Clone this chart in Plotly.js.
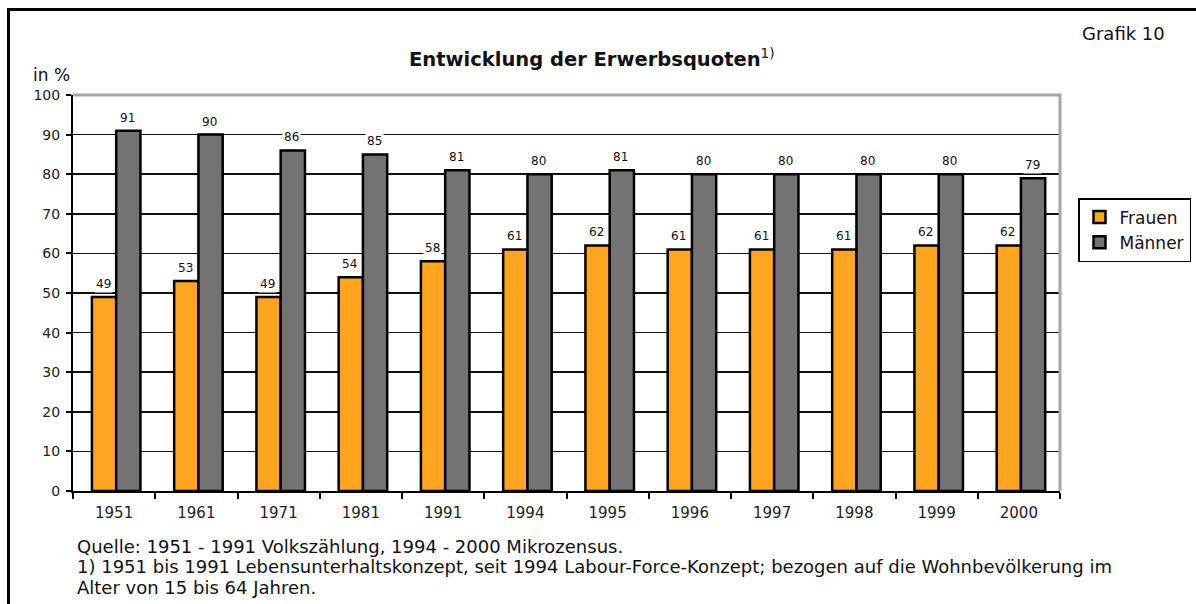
<!DOCTYPE html>
<html>
<head>
<meta charset="utf-8">
<script src="https://cdn.plot.ly/plotly-3.0.1.min.js"></script>
<style>
  html, body { margin: 0; padding: 0; background: #ffffff; }
  #chart { width: 1196px; height: 604px; }
</style>
</head>
<body>
<div id="chart"></div>
<script>
// Erwerbsquoten nach Geschlecht, in %
const years = ['1951', '1961', '1971', '1981', '1991', '1994', '1995', '1996', '1997', '1998', '1999', '2000'];
const frauen = [49, 53, 49, 54, 58, 61, 62, 61, 61, 61, 62, 62];
const maenner = [91, 90, 86, 85, 81, 80, 81, 80, 80, 80, 80, 79];
const seriesNames = ['Frauen', 'Männer'];
const yTicks = [0, 10, 20, 30, 40, 50, 60, 70, 80, 90, 100];

const W = 1196, H = 604;
const M = { l: 73, r: 136, t: 95, b: 113, autoexpand: false };
const plotW = W - M.l - M.r, plotH = H - M.t - M.b;
// pixel position on the page -> paper coordinates
const px = x => (x - M.l) / plotW;
const py = y => (H - M.b - y) / plotH;

const FONT = 'DejaVu Sans, Arial, sans-serif';
const ORANGE = '#ffa520';
const GREY = '#737373';

// bar slot within each category (in category units)
const BAR_W = 0.295;
const OFFSETS = [-0.27, 0.025];

const traces = [
  {
    type: 'bar', name: seriesNames[0], x: years, y: frauen,
    width: BAR_W, offset: OFFSETS[0],
    marker: { color: ORANGE, line: { color: '#000', width: 2.5 } },
    hoverinfo: 'x+y'
  },
  {
    type: 'bar', name: seriesNames[1], x: years, y: maenner,
    width: BAR_W, offset: OFFSETS[1],
    marker: { color: GREY, line: { color: '#000', width: 2.5 } },
    hoverinfo: 'x+y'
  }
];

// value labels above each bar, on a white patch that breaks the gridline
const valueLabels = [];
[frauen, maenner].forEach((vals, s) => {
  vals.forEach((v, i) => {
    valueLabels.push({
      x: i + OFFSETS[s] + BAR_W / 2, y: v, xref: 'x', yref: 'y',
      text: String(v), showarrow: false,
      xanchor: 'center', yanchor: 'bottom',
      xshift: -1, yshift: 4,
      bgcolor: '#ffffff', borderpad: 1,
      font: { family: FONT, size: 12, color: '#111' }
    });
  });
});

const textNotes = [
  { x: px(407), y: py(58), xanchor: 'left', yanchor: 'middle',
    text: '<b>Entwicklung der Erwerbsquoten</b><sup>1)</sup>',
    font: { family: FONT, size: 19.5, color: '#111' } },
  { x: px(1080), y: py(33), xanchor: 'left', yanchor: 'middle',
    text: 'Grafik 10', font: { family: FONT, size: 18, color: '#111' } },
  { x: px(31), y: py(75), xanchor: 'left', yanchor: 'middle',
    text: 'in %', font: { family: FONT, size: 17, color: '#111' } },
  { x: px(75), y: py(546), xanchor: 'left', yanchor: 'middle',
    text: 'Quelle: 1951 - 1991 Volkszählung, 1994 - 2000 Mikrozensus.',
    font: { family: FONT, size: 18, color: '#111' } },
  { x: px(75), y: py(566), xanchor: 'left', yanchor: 'middle',
    text: '1) 1951 bis 1991 Lebensunterhaltskonzept, seit 1994 Labour-Force-Konzept; bezogen auf die Wohnbevölkerung im',
    font: { family: FONT, size: 18, color: '#111' } },
  { x: px(75), y: py(587), xanchor: 'left', yanchor: 'middle',
    text: 'Alter von 15 bis 64 Jahren.',
    font: { family: FONT, size: 18, color: '#111' } }
].map(a => Object.assign({ xref: 'paper', yref: 'paper', showarrow: false, align: 'left' }, a));

const layout = {
  width: W, height: H,
  margin: M,
  paper_bgcolor: '#ffffff', plot_bgcolor: '#ffffff',
  barmode: 'group',
  showlegend: true,
  legend: {
    x: px(1078), y: py(198), xanchor: 'left', yanchor: 'top',
    bgcolor: '#ffffff', bordercolor: '#000', borderwidth: 1.5,
    font: { family: FONT, size: 17, color: '#111' },
    itemwidth: 30, tracegroupgap: 0
  },
  xaxis: {
    type: 'category', categoryorder: 'array', categoryarray: years,
    range: [-0.5, years.length - 0.5], autorange: false,
    showline: true, linecolor: '#000', linewidth: 2,
    ticks: 'outside', tickson: 'boundaries', ticklen: 6, tickwidth: 2, tickcolor: '#000',
    tickangle: 0, ticklabelstandoff: 7,
    tickfont: { family: FONT, size: 15, color: '#222' },
    showgrid: false, zeroline: false, fixedrange: true
  },
  yaxis: {
    range: [0, 100], autorange: false, tickvals: yTicks, ticktext: yTicks.map(String),
    showline: true, linecolor: '#000', linewidth: 2,
    ticks: 'outside', ticklen: 5, tickwidth: 2, tickcolor: '#000',
    ticklabelstandoff: 3,
    tickfont: { family: FONT, size: 14, color: '#222' },
    showgrid: true, gridcolor: '#111', gridwidth: 1.5,
    zeroline: false, fixedrange: true
  },
  shapes: [
    // grey frame on the top and right of the plot area
    { type: 'path', xref: 'paper', yref: 'paper', layer: 'above',
      path: 'M 0,1 L 1,1 L 1,0', line: { color: '#a6a6a6', width: 3 } },
    // page frame on the left and top
    { type: 'path', xref: 'paper', yref: 'paper', layer: 'above',
      path: `M ${px(8.5)},${py(620)} L ${px(8.5)},${py(9.5)} L ${px(1210)},${py(9.5)}`,
      line: { color: '#000', width: 3 } }
  ],
  annotations: valueLabels.concat(textNotes)
};

Plotly.newPlot('chart', traces, layout, { staticPlot: true, displayModeBar: false });
</script>
</body>
</html>
